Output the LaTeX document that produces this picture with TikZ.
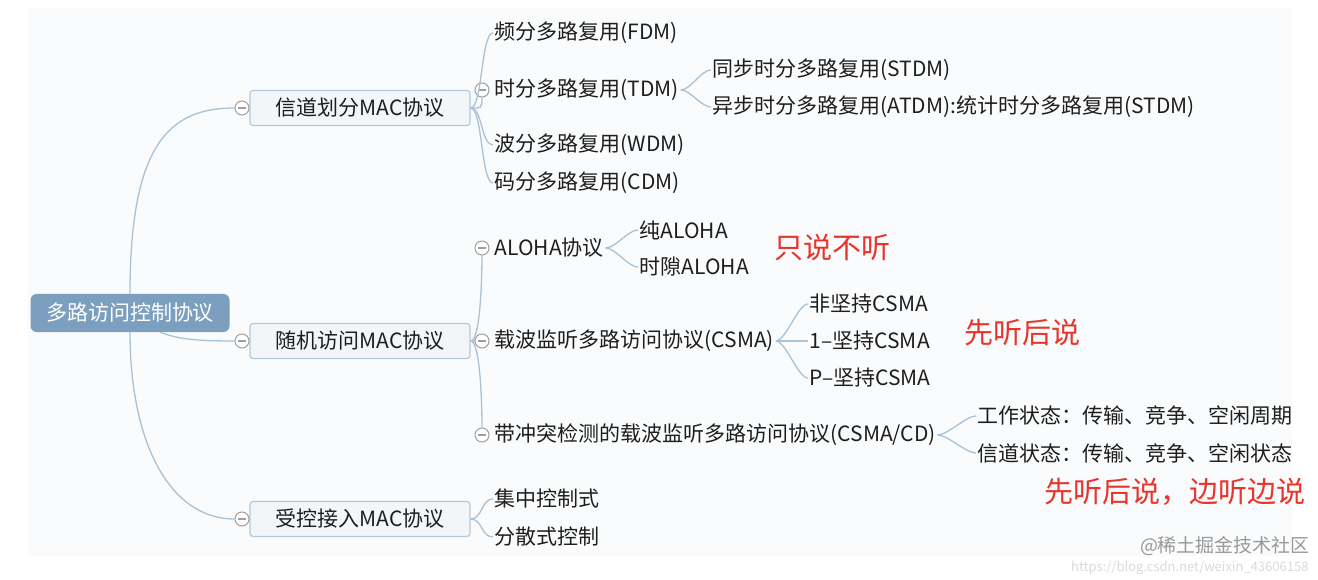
\documentclass[tikz,border=0pt]{standalone}
\usepackage{fontspec}
\setmainfont{Noto Sans CJK SC}
\definecolor{rootblue}{HTML}{7C9FBF}
\definecolor{boxfill}{HTML}{F3F6F9}
\definecolor{boxline}{HTML}{B3C8DB}
\definecolor{linkblue}{HTML}{A8C2D8}
\definecolor{note}{HTML}{E8352C}
\definecolor{txt}{HTML}{1E1E1E}
\definecolor{paper}{HTML}{FAFBFC}

\begin{document}
\begin{tikzpicture}[x=1pt, y=-1pt,
  link/.style={draw=linkblue, line width=1.3pt},
  rootbox/.style={rectangle, rounded corners=6pt, fill=rootblue, text=white, minimum width=199pt, minimum height=38pt, font=\fontsize{21}{25}\selectfont},
  topic/.style={rectangle, rounded corners=3pt, fill=boxfill, draw=boxline, line width=1.2pt, minimum width=220pt, minimum height=35pt, text=txt, font=\fontsize{21}{25}\selectfont},
  leaf/.style={anchor=west, inner sep=1.5pt, text=txt, font=\fontsize{21}{25}\selectfont},
  fold/.style={circle, draw=gray!75, fill=white, line width=1pt, minimum size=14pt, inner sep=0pt,
    path picture={\draw[gray!75, line width=1.2pt] ([xshift=-4pt]path picture bounding box.center) -- ([xshift=4pt]path picture bounding box.center);}},
  remark/.style={text=note, font=\fontsize{29}{34}\selectfont}]

  \useasboundingbox (0,0) rectangle (1318,580);
  \fill[paper] (28,8) rectangle (1292,556);

  \node[text=gray!30, font=\fontsize{13}{15}\selectfont, anchor=east] (url) at (1312,568) {https://blog.csdn.net/weixin\_43606158};
  \node[text=gray!80, font=\fontsize{19}{22}\selectfont] (mark) at (1225,546) {@稀土掘金技术社区};

  \node[rootbox] (root) at (130,313) {多路访问控制协议};

  \node[topic] (chan) at (360,108) {信道划分MAC协议};
  \node[topic] (rand) at (360,341) {随机访问MAC协议};
  \node[topic] (ctrl) at (360,519) {受控接入MAC协议};
  \node[fold] (fchan) at (242,108) {};
  \node[fold] (frand) at (242,341) {};
  \node[fold] (fctrl) at (242,519) {};

  \draw[link] (root.north) .. controls +(0,-150) and +(-65,0) .. (fchan.west);
  \draw[link] ([xshift=30pt]root.south) .. controls +(20,8) and +(-30,0) .. (frand.west);
  \draw[link] (root.south) .. controls +(0,110) and +(-65,0) .. (fctrl.west);

  \node[leaf] (fdm) at (493,33) {频分多路复用(FDM)};
  \node[fold] (ftdm) at (482,90) {};
  \node[leaf] (tdm) at (493,90) {时分多路复用(TDM)};
  \node[leaf] (wdm) at (493,145) {波分多路复用(WDM)};
  \node[leaf] (cdm) at (493,183) {码分多路复用(CDM)};
  \draw[link] (chan.east) .. controls +(12,0) and +(-12,0) .. (fdm.west);
  \draw[link] (chan.east) .. controls +(10,0) and +(0,12) .. (ftdm.south);
  \draw[link] (chan.east) .. controls +(12,0) and +(-12,0) .. (wdm.west);
  \draw[link] (chan.east) .. controls +(12,0) and +(-12,0) .. (cdm.west);

  \node[leaf] (stdm) at (711,70) {同步时分多路复用(STDM)};
  \node[leaf] (atdm) at (711,107) {异步时分多路复用(ATDM):统计时分多路复用(STDM)};
  \draw[link] (tdm.east) .. controls +(10,0) and +(-10,0) .. (stdm.west);
  \draw[link] (tdm.east) .. controls +(10,0) and +(-10,0) .. (atdm.west);

  \node[fold] (faloha) at (482,248) {};
  \node[leaf] (aloha) at (493,248) {ALOHA协议};
  \node[fold] (fcsma) at (482,341) {};
  \node[leaf] (csma) at (493,341) {载波监听多路访问协议(CSMA)};
  \node[fold] (fcd) at (482,435) {};
  \node[leaf] (csmacd) at (493,435) {带冲突检测的载波监听多路访问协议(CSMA/CD)};
  \draw[link] (rand.east) .. controls +(10,0) and +(0,20) .. (faloha.south);
  \draw[link] (rand.east) -- (fcsma.west);
  \draw[link] (rand.east) .. controls +(10,0) and +(0,-20) .. (fcd.north);

  \node[leaf] (pure) at (638,230) {纯ALOHA};
  \node[leaf] (slot) at (638,267) {时隙ALOHA};
  \draw[link] (aloha.east) .. controls +(10,0) and +(-10,0) .. (pure.west);
  \draw[link] (aloha.east) .. controls +(10,0) and +(-10,0) .. (slot.west);

  \node[leaf] (nonp) at (808,304) {非坚持CSMA};
  \node[leaf] (onep) at (808,341) {1–坚持CSMA};
  \node[leaf] (pp) at (808,378) {P–坚持CSMA};
  \draw[link] (csma.east) .. controls +(10,0) and +(-10,0) .. (nonp.west);
  \draw[link] (csma.east) -- (onep.west);
  \draw[link] (csma.east) .. controls +(10,0) and +(-10,0) .. (pp.west);

  \node[leaf] (work) at (976,416) {工作状态：传输、竞争、空闲周期};
  \node[leaf] (state) at (976,453) {信道状态：传输、竞争、空闲状态};
  \draw[link] (csmacd.east) .. controls +(10,0) and +(-10,0) .. (work.west);
  \draw[link] (csmacd.east) .. controls +(10,0) and +(-10,0) .. (state.west);

  \node[leaf] (central) at (493,499) {集中控制式};
  \node[leaf] (spread) at (493,537) {分散式控制};
  \draw[link] (ctrl.east) .. controls +(12,0) and +(-12,0) .. (central.west);
  \draw[link] (ctrl.east) .. controls +(12,0) and +(-12,0) .. (spread.west);

  \node[remark] (talk) at (832,248) {只说不听};
  \node[remark] (listen) at (1022,333) {先听后说};
  \node[remark] (both) at (1175,492) {先听后说，边听边说};

\end{tikzpicture}
\end{document}
